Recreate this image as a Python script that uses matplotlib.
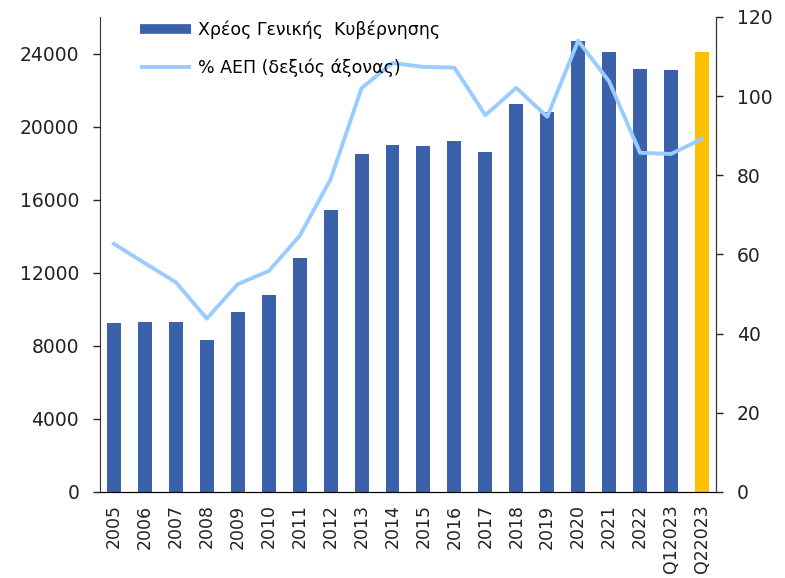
import numpy as np
import matplotlib.pyplot as plt
from matplotlib.lines import Line2D

years = ['2005', '2006', '2007', '2008', '2009', '2010', '2011', '2012', '2013', '2014',
         '2015', '2016', '2017', '2018', '2019', '2020', '2021', '2022', 'Q12023', 'Q22023']
debt = [9260, 9300, 9300, 8330, 9860, 10800, 12820, 15450, 18520, 19010,
        18960, 19230, 18630, 21260, 20820, 24680, 24100, 23180, 23120, 24100]
gdp_pct = [62.7, 57.8, 53.0, 43.8, 52.5, 55.8, 64.7, 79.0, 102.0, 108.4,
           107.4, 107.2, 95.2, 102.1, 94.8, 114.0, 103.7, 85.7, 85.4, 89.2]

bar_color = '#3c61ab'
last_color = '#ffc000'
line_color = '#99ccff'

plt.rcParams['font.family'] = ['Verdana', 'DejaVu Sans']
fig = plt.figure(figsize=(7.85, 5.78), dpi=100)
ax = fig.add_axes([0.1274, 0.1488, 0.7846, 0.8218])
x = np.arange(len(years))
colors = [bar_color] * (len(years) - 1) + [last_color]
ax.bar(x, debt, width=0.45, color=colors, zorder=2)
ax.set_ylim(0, 26000)
ax.set_xlim(-0.45, len(years) - 0.55)
ax.set_yticks(np.arange(0, 24001, 4000))
ax.set_xticks(x)
ax.set_xticklabels(years, rotation=90, fontsize=12.5)
ax.tick_params(axis='y', labelsize=13.5, direction='out', length=5, width=1, pad=10, colors='#222222')
ax.tick_params(axis='x', length=0, pad=9, colors='#222222')
ax.spines['top'].set_visible(False)
for s in ['left', 'right', 'bottom']:
    ax.spines[s].set_color('#333333')

ax2 = ax.twinx()
ax2.plot(x, gdp_pct, color=line_color, linewidth=2.8, zorder=3)
ax2.set_ylim(0, 120)
ax2.set_yticks(np.arange(0, 121, 20))
ax2.tick_params(axis='y', labelsize=13.5, direction='out', length=5, width=1, pad=10, colors='#222222')
ax2.spines['top'].set_visible(False)
ax2.spines['right'].set_color('#333333')
ax2.spines['left'].set_visible(False)

handles = [Line2D([0], [0], color=bar_color, linewidth=7, solid_capstyle='butt'),
           Line2D([0], [0], color=line_color, linewidth=2.8, solid_capstyle='butt')]
labels = ['Χρέος Γενικής  Κυβέρνησης', '% ΑΕΠ (δεξιός άξονας)']
ax2.legend(handles, labels, loc='upper left', bbox_to_anchor=(0.04, 1.025), frameon=False,
           fontsize=12.5, handlelength=2.9, handletextpad=0.4, labelspacing=1.1)

fig.savefig('out.png', dpi=100)
